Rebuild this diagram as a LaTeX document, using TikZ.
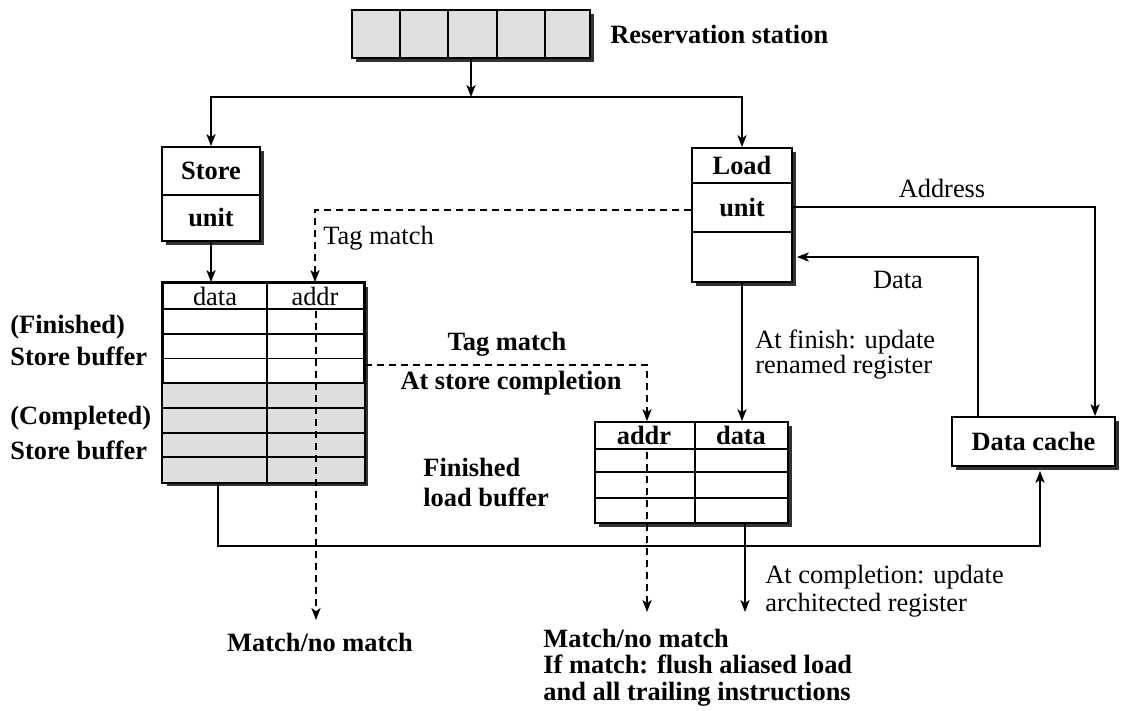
\documentclass[tikz,border=0pt]{standalone}
\usepackage{fontspec}
\setmainfont{Liberation Serif}
\usetikzlibrary{arrows.meta,shadows,calc}
\begin{document}
\begin{tikzpicture}[x=0.5pt,y=-0.5pt,
  every node/.style={font=\fontsize{13.2}{15}\selectfont},
  bx/.style={draw,line width=0.9pt,fill=white,inner sep=0pt,
    drop shadow={shadow xshift=2.2pt,shadow yshift=-2.2pt,fill=black!80,opacity=1}},
  ln/.style={line width=0.9pt},
  arr/.style={line width=0.9pt,-{Stealth[length=6pt,width=4.6pt,inset=1.6pt]}},
  dsh/.style={dash pattern=on 3.5pt off 2.5pt},
  lbl/.style={font=\fontsize{13.2}{15}\selectfont\bfseries,inner sep=0pt},
  txt/.style={font=\fontsize{13.2}{15}\selectfont,inner sep=0pt},
]
\useasboundingbox (0,0) rectangle (1123,711);

% Reservation station
\node[bx,fill=black!12,minimum width=119pt,minimum height=24pt] (rs) at (471,34) {};
\foreach \x in {400,448,497,545} \draw[ln] (\x,10) -- (\x,58);
\node[lbl,anchor=west] (rslbl) at (610,34) {Reservation station};

\coordinate (split) at (471,97);
\draw[arr] (rs.south) -- (split);

% Store unit
\node[bx,minimum width=49pt,minimum height=47pt] (store) at (211,194) {};
\draw[ln] (162,195) -- (260,195);
\node[lbl] (storet) at (211,171) {Store};
\node[lbl] (storeu) at (211,218) {unit};

% Load unit
\node[bx,minimum width=50pt,minimum height=67pt] (load) at (742,215) {};
\draw[ln] (692,183) -- (792,183);
\draw[ln] (692,232) -- (792,232);
\node[lbl] (loadt) at (742,165) {Load};
\node[lbl] (loadu) at (742,208) {unit};

\draw[arr] (split) -| (store.north);
\draw[arr] (split) -| (load.north);

% Store buffer
\node[bx,minimum width=100.5pt,minimum height=99.5pt] (sb) at (263.5,382.5) {};
\fill[black!13] (163,383.1) rectangle (364,482);
\foreach \y in {309,333.7,358.4,383.1,407.9,432.6,457.3} \draw[ln] (163,\y) -- (364,\y);
\draw[ln] (267,283) -- (267,482);
\draw[ln] (sb.north west) rectangle (sb.south east);
\node[txt] (sbdata) at (215,296) {data};
\node[txt] (sbaddr) at (315,296) {addr};

\node[lbl,anchor=west] (fin1) at (10,327) {(Finished)};
\node[lbl,anchor=west] (fin2) at (10,356) {Store buffer};
\node[lbl,anchor=west] (cmp1) at (10,418) {(Completed)};
\node[lbl,anchor=west] (cmp2) at (10,450) {Store buffer};

\draw[arr] (store.south) -- (store.south |- sb.north);

% Tag match from load unit
\coordinate (tagA) at (315,210);
\draw[arr,dsh] (load.west |- tagA) -- (tagA) -- (tagA |- sb.north);
\node[txt,anchor=west] (tmlbl) at (323,238) {Tag match};

% dashed through store buffer
\coordinate (sbcol) at (316,311);
\coordinate (m1) at (316,620);
\draw[arr,dsh] (sbcol) -- (m1);
\node[lbl] (mnm1) at (320,642) {Match/no match};

% Load buffer
\node[bx,minimum width=96.5pt,minimum height=50.5pt] (lb) at (691.5,472.5) {};
\draw[ln] (695,422) -- (695,523);
\foreach \y in {449,472,498} \draw[ln] (595,\y) -- (788,\y);
\node[lbl] (lbaddr) at (644,435) {addr};
\node[lbl] (lbdata) at (741,435) {data};
\node[lbl,anchor=west] (flb1) at (423,467) {Finished};
\node[lbl,anchor=west] (flb2) at (423,497) {load buffer};

% Tag match at store completion
\coordinate (tm) at (647,365);
\draw[arr,dsh] (sb.east |- tm) -- (tm) -- (tm |- lb.north);
\node[lbl] (tm2) at (507,344) {Tag match};
\node[lbl] (asc) at (511,383) {At store completion};

\draw[arr] (load.south) -- (load.south |- lb.north);
\node[txt,anchor=west] (af1) at (755,342) {At finish: update};
\node[txt,anchor=west] (af2) at (755,367) {renamed register};

% dashed through load buffer
\coordinate (lbcol) at (647,452);
\coordinate (m2) at (647,612);
\draw[arr,dsh] (lbcol) -- (m2);
\coordinate (m3) at (745,612);
\draw[arr] (m3 |- lb.south) -- (m3);
\node[txt,anchor=west] (ac1) at (765,577) {At completion: update};
\node[txt,anchor=west] (ac2) at (765,605) {architected register};

\node[lbl,anchor=west] (mb1) at (543,638) {Match/no match};
\node[lbl,anchor=west] (mb2) at (543,664) {If match: flush aliased load};
\node[lbl,anchor=west] (mb3) at (543,694) {and all trailing instructions};

% Data cache
\node[bx,lbl,minimum width=81.5pt,minimum height=24.5pt] (dc) at (1033.5,441.5) {Data cache};

\coordinate (addrc) at (1095,207);
\draw[arr] (load.east |- addrc) -- (addrc) -- (addrc |- dc.north);
\node[txt] (addrlbl) at (942,188) {Address};

\coordinate (datac) at (978,257);
\draw[arr] (datac |- dc.north) -- (datac) -- ($(load.east |- datac)+(2pt,0)$);
\node[txt] (datalbl) at (898,280) {Data};

% Bottom line store buffer -> data cache
\coordinate (bl) at (218,546);
\coordinate (br) at (1040,546);
\draw[arr] (bl |- sb.south) -- (bl) -- (br) -- ($(br |- dc.south)+(0,-2pt)$);
\end{tikzpicture}
\end{document}
